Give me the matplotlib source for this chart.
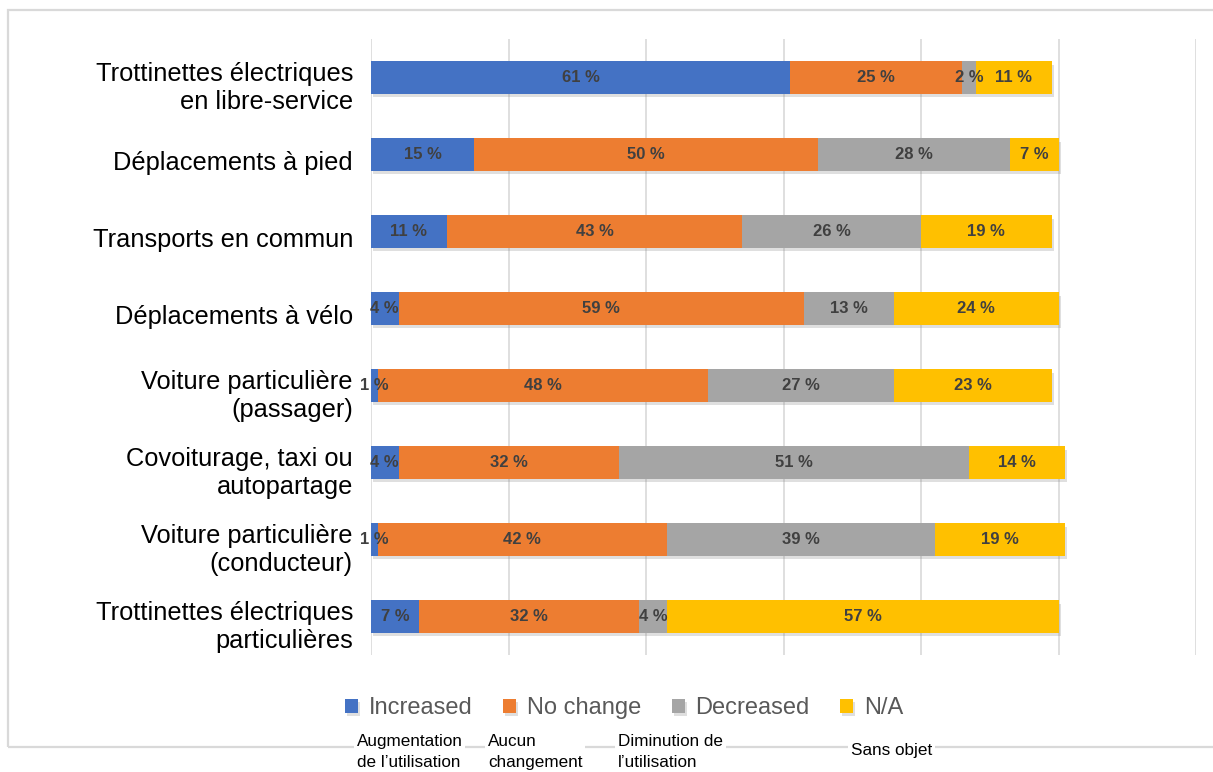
import matplotlib.pyplot as plt
import matplotlib.patheffects as pe
import matplotlib.transforms as mtransforms
from matplotlib.patches import Rectangle
import numpy as np

categories = ["Trottinettes électriques\nen libre-service", "Déplacements à pied",
              "Transports en commun", "Déplacements à vélo",
              "Voiture particulière\n(passager)", "Covoiturage, taxi ou\nautopartage",
              "Voiture particulière\n(conducteur)", "Trottinettes électriques\nparticulières"]
increased = [61, 15, 11, 4, 1, 4, 1, 7]
no_change = [25, 50, 43, 59, 48, 32, 42, 32]
decreased = [2, 28, 26, 13, 27, 51, 39, 4]
not_applicable = [11, 7, 19, 24, 23, 14, 19, 57]

series_names = ["Increased", "No change", "Decreased", "N/A"]
series_notes = ["Augmentation\nde l\u2019utilisation", "Aucun\nchangement",
                "Diminution de\nl\u2019utilisation", "Sans objet"]
colors = ["#4472C4", "#ED7D31", "#A5A5A5", "#FFC000"]

plt.rcParams['font.family'] = ["Liberation Sans", "DejaVu Sans"]

fig = plt.figure(figsize=(12.13, 7.72), dpi=100)
ax = fig.add_axes([371 / 1213, 1 - 655 / 772, (1196 - 371) / 1213, (655 - 39) / 772])

y = np.arange(len(categories))
left = np.zeros(len(categories))
shadow = [pe.SimplePatchShadow(offset=(1.5, -2.5), alpha=0.25, shadow_rgbFace="#808080"), pe.Normal()]
for name, vals, col in zip(series_names, [increased, no_change, decreased, not_applicable], colors):
    vals = np.array(vals, dtype=float)
    bars = ax.barh(y, vals, left=left, height=0.42, color=col, label=name, zorder=3)
    for b in bars:
        b.set_path_effects(shadow)
    for yi, l, v in zip(y, left, vals):
        ax.text(l + v / 2, yi, f"{int(v)} %", ha="center", va="center", fontsize=12,
                fontweight="bold", color="#404040", zorder=4)
    left += vals

ax.set_xlim(0, 120)
ax.set_ylim(len(categories) - 0.5, -0.5)
ax.set_xticks(np.arange(0, 121, 20))
ax.set_xticklabels([])
ax.grid(axis="x", color="#D9D9D9", lw=1.2, zorder=0)
ax.tick_params(axis="both", length=0)
ax.set_yticks(y)
ax.set_yticklabels(categories, fontsize=18.3, linespacing=1.22)
ax.tick_params(axis="y", pad=13)
shift = mtransforms.ScaledTranslation(0, -6 / 100, fig.dpi_scale_trans)
for lab in ax.get_yticklabels():
    lab.set_transform(lab.get_transform() + shift)
for s in ax.spines.values():
    s.set_visible(False)

# outer frame of the chart
fig.patches.append(Rectangle((8 / 1213, 1 - 747 / 772), 1.2, (747 - 10) / 772,
                             transform=fig.transFigure, fill=False, ec="#D9D9D9", lw=1.6, zorder=0))

leg = fig.legend(loc="center", bbox_to_anchor=(624 / 1213, 1 - 708 / 772), ncol=4, frameon=False,
                 handlelength=0.55, handleheight=0.55, handletextpad=0.45, columnspacing=1.3,
                 prop={"size": 17})
for t in leg.get_texts():
    t.set_color("#595959")

note_x = [357, 488, 618, 851]
note_y = [752, 752, 752, 750]
for txt, nx, ny in zip(series_notes, note_x, note_y):
    fig.text(nx / 1213, 1 - ny / 772, txt, ha="left", va="center", fontsize=12.3, linespacing=1.5,
             bbox=dict(boxstyle="square,pad=0.15", fc="white", ec="none"))

fig.savefig("out.png", dpi=100)
